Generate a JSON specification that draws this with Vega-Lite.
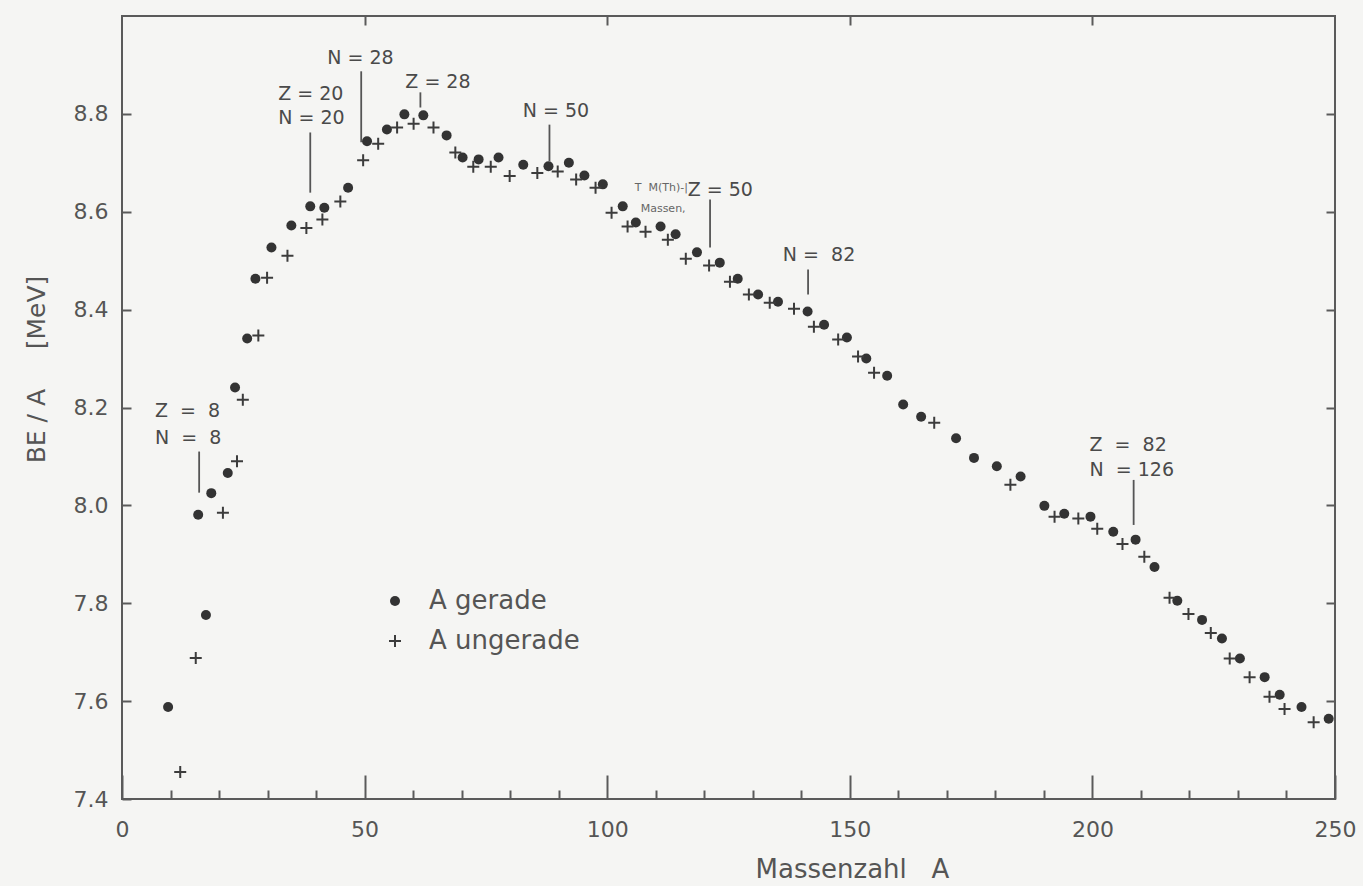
{
  "$schema": "https://vega.github.io/schema/vega-lite/v6.json",
  "width": 1213,
  "height": 783,
  "autosize": {"type": "none"},
  "padding": {"left": 122, "top": 16, "right": 28, "bottom": 87},
  "background": "#f5f5f3",
  "config": {
    "font": "DejaVu Sans",
    "view": {"stroke": "#5a5a5a", "strokeWidth": 2}
  },
  "datasets": {
    "punkte": [
      {"A": 9.5, "BE": 7.588, "typ": "A gerade"},
      {"A": 15.7, "BE": 7.981, "typ": "A gerade"},
      {"A": 17.3, "BE": 7.776, "typ": "A gerade"},
      {"A": 18.4, "BE": 8.025, "typ": "A gerade"},
      {"A": 21.8, "BE": 8.066, "typ": "A gerade"},
      {"A": 23.3, "BE": 8.241, "typ": "A gerade"},
      {"A": 25.8, "BE": 8.341, "typ": "A gerade"},
      {"A": 27.5, "BE": 8.463, "typ": "A gerade"},
      {"A": 30.8, "BE": 8.527, "typ": "A gerade"},
      {"A": 34.9, "BE": 8.572, "typ": "A gerade"},
      {"A": 38.8, "BE": 8.611, "typ": "A gerade"},
      {"A": 41.7, "BE": 8.608, "typ": "A gerade"},
      {"A": 46.6, "BE": 8.649, "typ": "A gerade"},
      {"A": 50.5, "BE": 8.744, "typ": "A gerade"},
      {"A": 54.6, "BE": 8.768, "typ": "A gerade"},
      {"A": 58.2, "BE": 8.799, "typ": "A gerade"},
      {"A": 62.1, "BE": 8.797, "typ": "A gerade"},
      {"A": 66.9, "BE": 8.756, "typ": "A gerade"},
      {"A": 70.2, "BE": 8.711, "typ": "A gerade"},
      {"A": 73.5, "BE": 8.707, "typ": "A gerade"},
      {"A": 77.6, "BE": 8.711, "typ": "A gerade"},
      {"A": 82.7, "BE": 8.696, "typ": "A gerade"},
      {"A": 87.9, "BE": 8.693, "typ": "A gerade"},
      {"A": 92.1, "BE": 8.7, "typ": "A gerade"},
      {"A": 95.3, "BE": 8.674, "typ": "A gerade"},
      {"A": 99.1, "BE": 8.656, "typ": "A gerade"},
      {"A": 103.2, "BE": 8.611, "typ": "A gerade"},
      {"A": 105.9, "BE": 8.578, "typ": "A gerade"},
      {"A": 111.0, "BE": 8.57, "typ": "A gerade"},
      {"A": 114.1, "BE": 8.554, "typ": "A gerade"},
      {"A": 118.5, "BE": 8.517, "typ": "A gerade"},
      {"A": 123.2, "BE": 8.496, "typ": "A gerade"},
      {"A": 126.9, "BE": 8.463, "typ": "A gerade"},
      {"A": 131.1, "BE": 8.431, "typ": "A gerade"},
      {"A": 135.2, "BE": 8.416, "typ": "A gerade"},
      {"A": 141.3, "BE": 8.396, "typ": "A gerade"},
      {"A": 144.7, "BE": 8.369, "typ": "A gerade"},
      {"A": 149.4, "BE": 8.343, "typ": "A gerade"},
      {"A": 153.4, "BE": 8.3, "typ": "A gerade"},
      {"A": 157.7, "BE": 8.265, "typ": "A gerade"},
      {"A": 161.0, "BE": 8.206, "typ": "A gerade"},
      {"A": 164.7, "BE": 8.181, "typ": "A gerade"},
      {"A": 171.9, "BE": 8.137, "typ": "A gerade"},
      {"A": 175.6, "BE": 8.097, "typ": "A gerade"},
      {"A": 180.3, "BE": 8.08, "typ": "A gerade"},
      {"A": 185.2, "BE": 8.059, "typ": "A gerade"},
      {"A": 190.1, "BE": 7.999, "typ": "A gerade"},
      {"A": 194.2, "BE": 7.983, "typ": "A gerade"},
      {"A": 199.6, "BE": 7.977, "typ": "A gerade"},
      {"A": 204.3, "BE": 7.946, "typ": "A gerade"},
      {"A": 208.9, "BE": 7.93, "typ": "A gerade"},
      {"A": 212.8, "BE": 7.874, "typ": "A gerade"},
      {"A": 217.5, "BE": 7.805, "typ": "A gerade"},
      {"A": 222.6, "BE": 7.766, "typ": "A gerade"},
      {"A": 226.7, "BE": 7.728, "typ": "A gerade"},
      {"A": 230.4, "BE": 7.687, "typ": "A gerade"},
      {"A": 235.5, "BE": 7.649, "typ": "A gerade"},
      {"A": 238.6, "BE": 7.613, "typ": "A gerade"},
      {"A": 243.1, "BE": 7.588, "typ": "A gerade"},
      {"A": 248.7, "BE": 7.564, "typ": "A gerade"},
      {"A": 12.0, "BE": 7.455, "typ": "A ungerade"},
      {"A": 15.2, "BE": 7.688, "typ": "A ungerade"},
      {"A": 20.8, "BE": 7.985, "typ": "A ungerade"},
      {"A": 23.7, "BE": 8.09, "typ": "A ungerade"},
      {"A": 24.9, "BE": 8.216, "typ": "A ungerade"},
      {"A": 28.1, "BE": 8.347, "typ": "A ungerade"},
      {"A": 29.9, "BE": 8.465, "typ": "A ungerade"},
      {"A": 34.1, "BE": 8.51, "typ": "A ungerade"},
      {"A": 38.0, "BE": 8.567, "typ": "A ungerade"},
      {"A": 41.3, "BE": 8.584, "typ": "A ungerade"},
      {"A": 45.0, "BE": 8.621, "typ": "A ungerade"},
      {"A": 49.7, "BE": 8.705, "typ": "A ungerade"},
      {"A": 52.8, "BE": 8.739, "typ": "A ungerade"},
      {"A": 56.7, "BE": 8.772, "typ": "A ungerade"},
      {"A": 60.1, "BE": 8.78, "typ": "A ungerade"},
      {"A": 64.2, "BE": 8.772, "typ": "A ungerade"},
      {"A": 68.7, "BE": 8.721, "typ": "A ungerade"},
      {"A": 72.4, "BE": 8.692, "typ": "A ungerade"},
      {"A": 76.0, "BE": 8.692, "typ": "A ungerade"},
      {"A": 79.9, "BE": 8.673, "typ": "A ungerade"},
      {"A": 85.6, "BE": 8.679, "typ": "A ungerade"},
      {"A": 89.8, "BE": 8.682, "typ": "A ungerade"},
      {"A": 93.6, "BE": 8.666, "typ": "A ungerade"},
      {"A": 97.6, "BE": 8.649, "typ": "A ungerade"},
      {"A": 100.9, "BE": 8.598, "typ": "A ungerade"},
      {"A": 104.2, "BE": 8.57, "typ": "A ungerade"},
      {"A": 107.9, "BE": 8.559, "typ": "A ungerade"},
      {"A": 112.5, "BE": 8.543, "typ": "A ungerade"},
      {"A": 116.2, "BE": 8.504, "typ": "A ungerade"},
      {"A": 121.0, "BE": 8.49, "typ": "A ungerade"},
      {"A": 125.3, "BE": 8.457, "typ": "A ungerade"},
      {"A": 129.2, "BE": 8.431, "typ": "A ungerade"},
      {"A": 133.5, "BE": 8.414, "typ": "A ungerade"},
      {"A": 138.5, "BE": 8.402, "typ": "A ungerade"},
      {"A": 142.6, "BE": 8.365, "typ": "A ungerade"},
      {"A": 147.6, "BE": 8.339, "typ": "A ungerade"},
      {"A": 151.7, "BE": 8.304, "typ": "A ungerade"},
      {"A": 155.0, "BE": 8.271, "typ": "A ungerade"},
      {"A": 167.4, "BE": 8.169, "typ": "A ungerade"},
      {"A": 183.1, "BE": 8.042, "typ": "A ungerade"},
      {"A": 192.2, "BE": 7.977, "typ": "A ungerade"},
      {"A": 197.1, "BE": 7.973, "typ": "A ungerade"},
      {"A": 201.0, "BE": 7.952, "typ": "A ungerade"},
      {"A": 206.2, "BE": 7.921, "typ": "A ungerade"},
      {"A": 210.7, "BE": 7.895, "typ": "A ungerade"},
      {"A": 215.9, "BE": 7.811, "typ": "A ungerade"},
      {"A": 219.8, "BE": 7.778, "typ": "A ungerade"},
      {"A": 224.4, "BE": 7.739, "typ": "A ungerade"},
      {"A": 228.3, "BE": 7.687, "typ": "A ungerade"},
      {"A": 232.4, "BE": 7.649, "typ": "A ungerade"},
      {"A": 236.5, "BE": 7.609, "typ": "A ungerade"},
      {"A": 239.6, "BE": 7.584, "typ": "A ungerade"},
      {"A": 245.6, "BE": 7.557, "typ": "A ungerade"}
    ],
    "linien": [
      {"A": 15.9, "von": 8.026, "bis": 8.11},
      {"A": 38.8, "von": 8.639, "bis": 8.762},
      {"A": 49.3, "von": 8.742, "bis": 8.887},
      {"A": 61.5, "von": 8.813, "bis": 8.844},
      {"A": 88.1, "von": 8.703, "bis": 8.778},
      {"A": 121.2, "von": 8.527, "bis": 8.625},
      {"A": 141.4, "von": 8.431, "bis": 8.482},
      {"A": 208.5, "von": 7.96, "bis": 8.052}
    ],
    "beschriftung": [
      {"A": 6.8, "BE": 8.192, "text": "Z\u00a0\u00a0=\u00a0\u00a08"},
      {"A": 6.8, "BE": 8.138, "text": "N\u00a0\u00a0=\u00a0\u00a08"},
      {"A": 32.2, "BE": 8.841, "text": "Z = 20"},
      {"A": 32.2, "BE": 8.791, "text": "N = 20"},
      {"A": 42.3, "BE": 8.915, "text": "N = 28"},
      {"A": 58.4, "BE": 8.866, "text": "Z = 28"},
      {"A": 82.6, "BE": 8.805, "text": "N = 50"},
      {"A": 116.6, "BE": 8.645, "text": "Z = 50"},
      {"A": 136.2, "BE": 8.512, "text": "N\u00a0=\u00a0\u00a082"},
      {"A": 199.4, "BE": 8.124, "text": "Z\u00a0\u00a0=\u00a0\u00a082"},
      {"A": 199.4, "BE": 8.072, "text": "N\u00a0\u00a0=\u00a0126"}
    ],
    "notiz": [
      {"A": 105.7, "BE": 8.649, "text": "T\u00a0\u00a0M(Th)-|"},
      {"A": 106.9, "BE": 8.606, "text": "Massen,"}
    ]
  },
  "resolve": {"axis": {"x": "independent", "y": "independent"}},
  "layer": [
    {
      "data": {"name": "punkte"},
      "mark": {"type": "point", "filled": true, "strokeWidth": 2, "size": 100, "opacity": 1},
      "encoding": {
        "x": {
          "field": "A", "type": "quantitative",
          "scale": {"domain": [0, 250], "nice": false, "zero": false},
          "axis": {
            "orient": "bottom", "values": [0, 50, 100, 150, 200, 250],
            "tickSize": -24, "tickWidth": 2, "tickColor": "#5a5a5a",
            "domain": false, "grid": false,
            "labelFont": "DejaVu Sans", "labelFontSize": 22, "labelColor": "#555555",
            "labelPadding": 44, "labelFlush": false,
            "title": "Massenzahl\u00a0\u00a0\u00a0A", "titleFont": "DejaVu Sans", "titleFontSize": 26,
            "titleFontWeight": "normal", "titleColor": "#555555", "titleX": 730, "titlePadding": 16
          }
        },
        "y": {
          "field": "BE", "type": "quantitative",
          "scale": {"domain": [7.4, 9.0], "nice": false, "zero": false},
          "axis": {
            "orient": "left", "values": [7.4, 7.6, 7.8, 8.0, 8.2, 8.4, 8.6, 8.8], "format": ".1f",
            "tickSize": -9, "tickWidth": 2, "tickColor": "#5a5a5a",
            "domain": false, "grid": false,
            "labelFont": "DejaVu Sans", "labelFontSize": 22, "labelColor": "#555555",
            "labelPadding": 23,
            "title": "BE / A\u00a0\u00a0\u00a0\u00a0\u00a0[MeV]", "titleFont": "DejaVu Sans", "titleFontSize": 25,
            "titleFontWeight": "normal", "titleColor": "#555555", "titleY": 353, "titlePadding": 24
          }
        },
        "shape": {
          "field": "typ", "type": "nominal",
          "scale": {"domain": ["A gerade", "A ungerade"], "range": ["circle", "M-1.2,0H1.2M0,-1.2V1.2"]},
          "legend": {"title": null, "orient": "none", "legendX": 260, "legendY": 572, "labelFont": "DejaVu Sans", "labelFontSize": 26, "labelColor": "#555555", "symbolSize": 100, "symbolStrokeWidth": 2, "rowPadding": 14, "labelOffset": 21}
        },
        "fill": {
          "field": "typ", "type": "nominal",
          "scale": {"domain": ["A gerade", "A ungerade"], "range": ["#333333", "transparent"]},
          "legend": {"title": null, "orient": "none", "legendX": 260, "legendY": 572, "labelFont": "DejaVu Sans", "labelFontSize": 26, "labelColor": "#555555", "symbolSize": 100, "symbolStrokeWidth": 2, "rowPadding": 14, "labelOffset": 21}
        },
        "stroke": {
          "field": "typ", "type": "nominal",
          "scale": {"domain": ["A gerade", "A ungerade"], "range": ["transparent", "#3c3c3c"]},
          "legend": {"title": null, "orient": "none", "legendX": 260, "legendY": 572, "labelFont": "DejaVu Sans", "labelFontSize": 26, "labelColor": "#555555", "symbolSize": 100, "symbolStrokeWidth": 2, "rowPadding": 14, "labelOffset": 21}
        }
      }
    },
    {
      "data": {"name": "linien"},
      "mark": {"type": "rule", "color": "#555555", "strokeWidth": 1.8},
      "encoding": {
        "x": {
          "field": "A", "type": "quantitative",
          "scale": {"domain": [0, 250], "nice": false, "zero": false},
          "axis": {
            "orient": "bottom", "values": [10, 20, 30, 40, 60, 70, 80, 90, 110, 120, 130, 140, 160, 170, 180, 190, 210, 220, 230, 240],
            "tickSize": -9, "tickWidth": 2, "tickColor": "#5a5a5a",
            "domain": false, "grid": false, "labels": false, "title": null
          }
        },
        "y": {
          "field": "von", "type": "quantitative",
          "scale": {"domain": [7.4, 9.0], "nice": false, "zero": false},
          "axis": {
            "orient": "right", "values": [7.6, 7.8, 8.0, 8.2, 8.4, 8.6, 8.8],
            "tickSize": -9, "tickWidth": 2, "tickColor": "#5a5a5a",
            "domain": false, "grid": false, "labels": false, "title": null
          }
        },
        "y2": {"field": "bis"}
      }
    },
    {
      "data": {"name": "beschriftung"},
      "mark": {"type": "text", "align": "left", "baseline": "middle", "font": "DejaVu Sans", "fontSize": 19, "color": "#4a4a4a"},
      "encoding": {
        "x": {
          "field": "A", "type": "quantitative",
          "scale": {"domain": [0, 250], "nice": false, "zero": false},
          "axis": {
            "orient": "top", "values": [50, 100, 150, 200],
            "tickSize": -9, "tickWidth": 2, "tickColor": "#5a5a5a",
            "domain": false, "grid": false, "labels": false, "title": null
          }
        },
        "y": {
          "field": "BE", "type": "quantitative",
          "scale": {"domain": [7.4, 9.0], "nice": false, "zero": false},
          "axis": null
        },
        "text": {"field": "text", "type": "nominal"}
      }
    },
    {
      "data": {"name": "notiz"},
      "mark": {"type": "text", "align": "left", "baseline": "middle", "font": "DejaVu Sans", "fontSize": 11, "color": "#666666"},
      "encoding": {
        "x": {"field": "A", "type": "quantitative", "scale": {"domain": [0, 250], "nice": false, "zero": false}, "axis": null},
        "y": {"field": "BE", "type": "quantitative", "scale": {"domain": [7.4, 9.0], "nice": false, "zero": false}, "axis": null},
        "text": {"field": "text", "type": "nominal"}
      }
    }
  ]
}
